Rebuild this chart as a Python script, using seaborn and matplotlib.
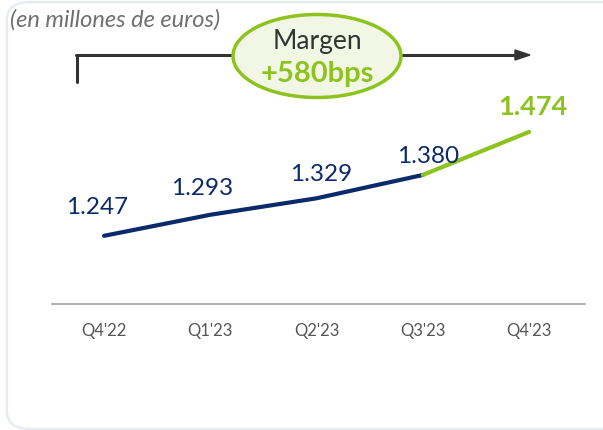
import matplotlib
matplotlib.use("Agg")
import matplotlib.pyplot as plt
import numpy as np
import pandas as pd
import seaborn as sns
from matplotlib.patches import Ellipse, FancyBboxPatch

# --- Data ---
QUARTERS = ["Q4'22", "Q1'23", "Q2'23", "Q3'23", "Q4'23"]
VALUES = [1.247, 1.293, 1.329, 1.380, 1.474]
LABELS = ["1.247", "1.293", "1.329", "1.380", "1.474"]
TITLE = "(en millones de euros)"
BADGE_TOP = "Margen"
BADGE_BOTTOM = "+580bps"

NAVY = "#0b2a6b"
GREEN = "#8dc21f"
GRAY_TXT = "#555555"

sns.set_theme(style="white")
plt.rcParams["font.family"] = ["Lato", "DejaVu Sans"]

W, H = 603, 431
fig = plt.figure(figsize=(W / 100, H / 100), dpi=100)


def px(x, y):
    """Pixel coords (top-left origin) -> figure fraction."""
    return x / W, 1 - y / H


# rounded card frame
card = FancyBboxPatch(px(7, 430), (640 - 7) / W, (430 - 3) / H,
                      boxstyle="round,pad=0,rounding_size=0.04",
                      transform=fig.transFigure, fill=False,
                      edgecolor="#e6eaf2", linewidth=1.6)
fig.patches.append(card)

# axes placement (data area)
x0, x1 = 52, 585
y_base, y_top = 305, 100
ax = fig.add_axes([x0 / W, 1 - y_base / H, (x1 - x0) / W, (y_base - y_top) / H])

df = pd.DataFrame({"q": np.arange(len(QUARTERS)), "v": VALUES})
sns.lineplot(data=df.iloc[:4], x="q", y="v", color=NAVY, linewidth=3,
             ax=ax, solid_capstyle="round")
sns.lineplot(data=df.iloc[3:], x="q", y="v", color=GREEN, linewidth=3,
             ax=ax, solid_capstyle="round")

ax.set_xlim(-0.49, 4.527)
ax.set_ylim(1.098, 1.546)
ax.set_xticks(df["q"])
ax.set_xticklabels(QUARTERS, fontsize=12, color=GRAY_TXT)
ax.tick_params(axis="x", length=0, pad=13)
ax.set_yticks([])
ax.set_xlabel("")
ax.set_ylabel("")
for s in ["top", "right", "left"]:
    ax.spines[s].set_visible(False)
ax.spines["bottom"].set_color("#a8a8a8")
ax.spines["bottom"].set_linewidth(1.3)
ax.patch.set_alpha(0)

# value labels
offsets = [(-7, 29), (-8, 27), (5, 25), (5, 19), (4, 26)]
for i, (v, lab) in enumerate(zip(VALUES, LABELS)):
    last = i == len(VALUES) - 1
    ax.annotate(lab, (i, v), xytext=offsets[i], textcoords="offset pixels",
                ha="center", va="center",
                fontsize=19.5 if last else 17.5,
                fontweight="bold" if last else "normal",
                color=GREEN if last else NAVY)

# subtitle
fig.text(*px(10, 20), TITLE, fontsize=17, style="italic",
         color="#707070", ha="left", va="center")

# bracket arrow
fig.add_artist(plt.Line2D([77 / W, 77 / W], [1 - 83 / H, 1 - 56 / H],
                          transform=fig.transFigure, color="#333333", lw=2.2))
fig.add_artist(plt.Line2D([76 / W, 520 / W], [1 - 56 / H, 1 - 56 / H],
                          transform=fig.transFigure, color="#333333", lw=2.2))
fig.add_artist(plt.Polygon([px(515, 51), px(530, 56), px(515, 61)],
                           closed=True, transform=fig.transFigure,
                           color="#333333"))

# badge ellipse (drawn over the arrow)
cx, cy = px(317, 57)
badge = Ellipse((cx, cy), 168 / W, 83 / H, transform=fig.transFigure,
                facecolor="#f1f7e4", edgecolor=GREEN, linewidth=2.5, zorder=5)
fig.add_artist(badge)
fig.text(*px(317, 41), BADGE_TOP, fontsize=19,
         color="#333333", ha="center", va="center", zorder=6)
fig.text(*px(317, 74), BADGE_BOTTOM, fontsize=21, fontweight="bold",
         color=GREEN, ha="center", va="center", zorder=6)

fig.savefig("out.png", dpi=100)
